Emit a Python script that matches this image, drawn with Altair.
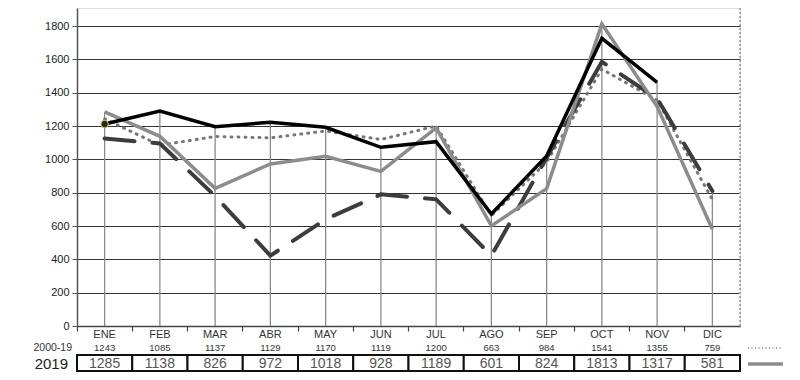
import altair as alt
import pandas as pd
import numpy as np

months = ["ENE", "FEB", "MAR", "ABR", "MAY", "JUN", "JUL", "AGO", "SEP", "OCT", "NOV", "DIC"]
avg_2000_19 = [1243, 1085, 1137, 1129, 1170, 1119, 1200, 663, 984, 1541, 1355, 759]
v2019 = [1285, 1138, 826, 972, 1018, 928, 1189, 601, 824, 1813, 1317, 581]
v_dashed = [1125, 1095, 780, 422, 640, 790, 760, 422, 1010, 1585, 1365, 810]
v_black = [1212, 1290, 1196, 1222, 1192, 1072, 1106, 672, 1020, 1726, 1462, None]
y_ticks = [0, 200, 400, 600, 800, 1000, 1200, 1400, 1600, 1800]

df = pd.DataFrame({
    "mes": months,
    "prom": avg_2000_19,
    "v2019": v2019,
    "vdash": v_dashed,
    "vblack": v_black,
})
df["vblack"] = df["vblack"].astype(float)
df["top"] = np.nanmax(df[["v2019", "vdash", "vblack"]].to_numpy(dtype=float), axis=1)
df["zero"] = 0

W, H = 663, 318
FONT = "Liberation Sans"

xaxis = alt.Axis(title=None, labels=False, ticks=True, tickSize=5, bandPosition=0,
                 domainColor="#444", domainWidth=1.5, tickColor="#444", tickWidth=1.2, grid=False)
xscale = alt.Scale(type="band", domain=months, paddingInner=0, paddingOuter=0)
yscale = alt.Scale(domain=[0, 1908], nice=False, zero=True)
yaxis = alt.Axis(title=None, values=y_ticks, format="d", grid=True, gridColor="#333", gridWidth=1,
                 tickSize=5, tickColor="#555", labelFontSize=11, labelColor="#222", labelFont=FONT,
                 labelPadding=3, domainColor="#555", domainWidth=1.5)

X = alt.X("mes:N", sort=months, scale=xscale, axis=xaxis)
base = alt.Chart(df)

def Y(field):
    return alt.Y(f"{field}:Q", scale=yscale, axis=yaxis)

drops = base.mark_rule(color="#8a8a8a", strokeWidth=1.3).encode(
    x=X, y=Y("top"), y2="zero:Q")

border = base.mark_rule(color="#aaaaaa", strokeWidth=1, strokeDash=[2, 2]).encode(
    x=alt.value(W), y=alt.value(0), y2=alt.value(H))

dotted = base.mark_line(color="#777777", strokeWidth=3, strokeDash=[1, 6], strokeCap="round").encode(
    x=X, y=Y("prom"))
dashed = base.mark_line(color="#3d3d3d", strokeWidth=4, strokeDash=[30, 18], strokeCap="round").encode(
    x=X, y=Y("vdash"))
gray = base.mark_line(color="#8c8c8c", strokeWidth=3.5).encode(x=X, y=Y("v2019"))
black = base.mark_line(color="#000000", strokeWidth=3.5).encode(x=X, y=Y("vblack"))
dot = alt.Chart(df.iloc[[0]]).mark_point(filled=True, size=55, color="#2a2a10",
                                          stroke="#c8c87a", strokeWidth=1, opacity=1).encode(
    x=X, y=Y("vblack"))

month_txt = base.mark_text(fontSize=11, color="#333", font=FONT, baseline="middle").encode(
    x=X, y=alt.value(327), text="mes:N")
avg_txt = base.mark_text(fontSize=9.5, color="#333", font=FONT, baseline="middle").encode(
    x=X, y=alt.value(339.5), text=alt.Text("prom:Q", format="d"))
boxes = base.mark_rect(fill="white", stroke="#111", strokeWidth=2).encode(
    x=X, y=alt.value(347), y2=alt.value(363))
v19_txt = base.mark_text(fontSize=14, color="#555", font=FONT, baseline="middle").encode(
    x=X, y=alt.value(355.5), text=alt.Text("v2019:Q", format="d"))

lab_avg = alt.Chart(pd.DataFrame({"t": ["2000-19"]})).mark_text(
    fontSize=10.5, color="#333", font=FONT, align="right", baseline="middle").encode(
    x=alt.value(-5), y=alt.value(339.5), text="t:N")
lab_19 = alt.Chart(pd.DataFrame({"t": ["2019"]})).mark_text(
    fontSize=15, color="#222", font=FONT, align="right", baseline="middle").encode(
    x=alt.value(-9), y=alt.value(355.5), text="t:N")

leg_dot = alt.Chart(pd.DataFrame({"t": ["2000-19"]})).mark_rule(
    color="#999", strokeWidth=2, strokeDash=[1, 2.5]).encode(
    x=alt.value(671), x2=alt.value(706), y=alt.value(340))
leg_gray = alt.Chart(pd.DataFrame({"t": ["2019"]})).mark_rule(
    color="#8c8c8c", strokeWidth=3.5).encode(
    x=alt.value(671), x2=alt.value(706), y=alt.value(356))

chart = alt.layer(
    drops, border, dotted, dashed, gray, black, dot,
    month_txt, avg_txt, boxes, v19_txt, lab_avg, lab_19, leg_dot, leg_gray
).properties(
    width=W, height=H,
    autosize=alt.AutoSizeParams(type="none"),
    padding={"left": 69, "top": 0, "right": 52, "bottom": 46},
).configure_view(stroke=None).configure(background="white")

chart.save("out.html", embed_options={"renderer": "svg", "actions": False})
